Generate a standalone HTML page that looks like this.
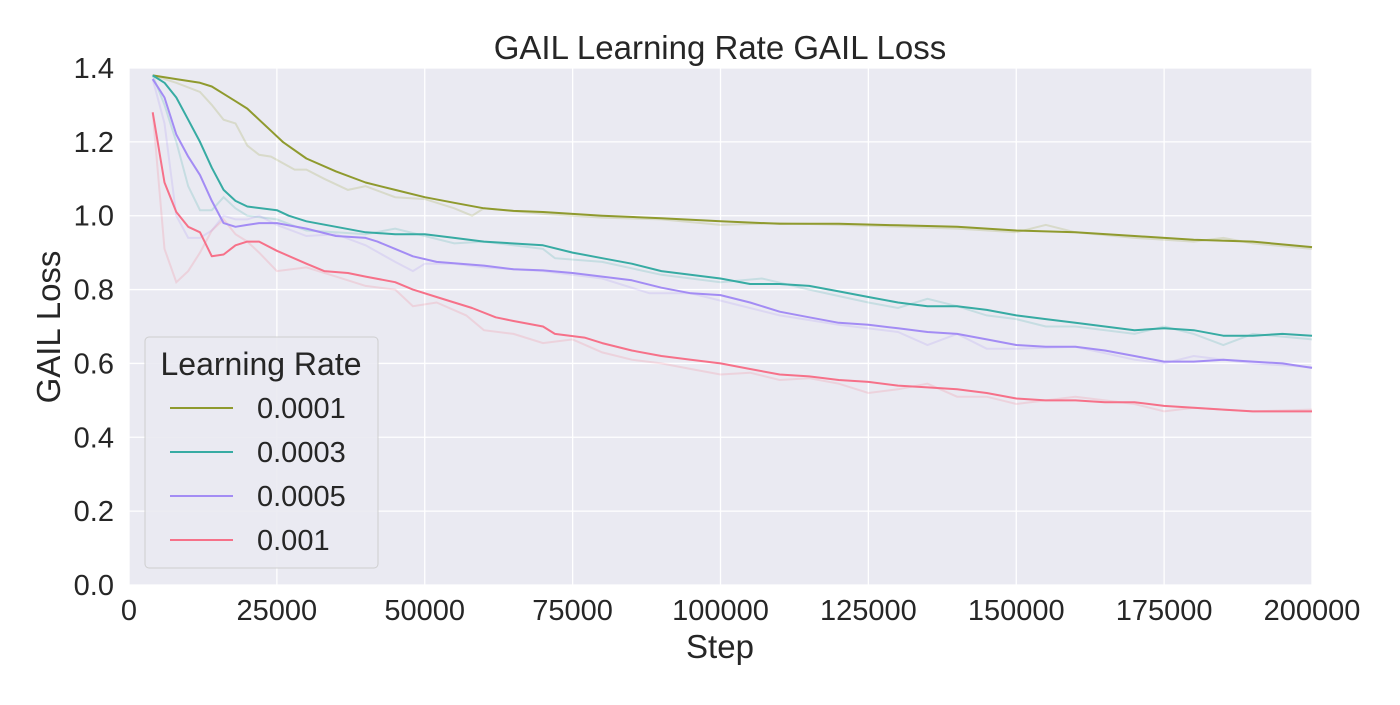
<!DOCTYPE html>
<html><head><meta charset="utf-8"><style>body{margin:0;background:#fff}svg text{font-family:"Liberation Sans",sans-serif;fill:#262626}</style></head>
<body>
<svg id="chart" width="1400" height="700">
<rect x="129" y="68" width="1183" height="517" fill="#eaeaf2"/>
<g id="grid"></g><g id="raw"></g><g id="smooth"></g><g id="ticks"></g>
<text x="720" y="59" font-size="33" text-anchor="middle">GAIL Learning Rate GAIL Loss</text>
<text x="720" y="658" font-size="33" text-anchor="middle">Step</text>
<text transform="translate(60,327) rotate(-90)" font-size="33" text-anchor="middle">GAIL Loss</text>
<g>
<rect x="145" y="337" width="233" height="231" rx="4" fill="#eaeaf2" stroke="#cccccc" opacity="0.9"/>
<text x="261" y="375" font-size="32" text-anchor="middle">Learning Rate</text>
<g id="legend"></g></g>
</svg>
<script>
const xTicks=[0,25000,50000,75000,100000,125000,150000,175000,200000];
const yTicks=[0,0.2,0.4,0.6,0.8,1.0,1.2,1.4];
const labels=["0.0001","0.0003","0.0005","0.001"];
const colors=["#8f9a2e","#37aba3","#a38cf4","#f67189"];
const s1x=[4000,8000,12000,14000,16000,18000,20000,22000,24000,26000,30000,35000,40000,45000,50000,55000,60000,65000,70000,75000,80000,90000,100000,110000,120000,130000,140000,150000,160000,170000,180000,190000,200000];
const s1y=[1.38,1.37,1.36,1.35,1.33,1.31,1.29,1.26,1.23,1.2,1.155,1.12,1.09,1.07,1.05,1.035,1.02,1.013,1.01,1.005,1.0,0.993,0.985,0.978,0.978,0.974,0.97,0.96,0.955,0.945,0.935,0.93,0.915];
const s2x=[4000,6000,8000,10000,12000,14000,16000,18000,20000,25000,27000,30000,35000,40000,45000,50000,55000,60000,70000,75000,80000,85000,90000,100000,105000,110000,115000,120000,125000,130000,135000,140000,145000,150000,155000,160000,165000,170000,175000,180000,185000,190000,195000,200000];
const s2y=[1.38,1.36,1.32,1.26,1.2,1.13,1.07,1.04,1.025,1.015,1.0,0.985,0.97,0.955,0.95,0.95,0.94,0.93,0.92,0.9,0.885,0.87,0.85,0.83,0.815,0.815,0.81,0.795,0.78,0.765,0.755,0.755,0.745,0.73,0.72,0.71,0.7,0.69,0.695,0.69,0.675,0.675,0.68,0.675];
const s3x=[4000,6000,8000,10000,12000,14000,16000,18000,20000,22000,25000,30000,35000,40000,42000,45000,48000,52000,60000,65000,70000,75000,80000,85000,90000,95000,100000,105000,110000,115000,120000,125000,130000,135000,140000,145000,150000,155000,160000,165000,170000,175000,180000,185000,190000,195000,200000];
const s3y=[1.37,1.32,1.22,1.16,1.11,1.04,0.98,0.97,0.975,0.98,0.98,0.965,0.945,0.94,0.93,0.91,0.89,0.875,0.865,0.855,0.852,0.845,0.835,0.825,0.805,0.79,0.785,0.765,0.74,0.725,0.71,0.705,0.695,0.685,0.68,0.665,0.65,0.645,0.645,0.635,0.62,0.605,0.605,0.61,0.605,0.6,0.588];
const s4x=[4000,6000,8000,10000,12000,14000,16000,18000,20000,22000,25000,30000,33000,37000,40000,45000,48000,52000,55000,58000,62000,65000,70000,72000,77000,80000,85000,90000,95000,100000,105000,110000,115000,120000,125000,130000,135000,140000,145000,150000,155000,160000,165000,170000,175000,180000,185000,190000,195000,200000];
const s4y=[1.28,1.09,1.01,0.97,0.955,0.89,0.895,0.92,0.93,0.93,0.905,0.87,0.85,0.845,0.835,0.82,0.8,0.78,0.765,0.75,0.725,0.715,0.7,0.68,0.67,0.655,0.635,0.62,0.61,0.6,0.585,0.57,0.565,0.555,0.55,0.54,0.535,0.53,0.52,0.505,0.5,0.5,0.495,0.495,0.485,0.48,0.475,0.47,0.47,0.47];
const r1x=[4000,8000,12000,14000,16000,18000,20000,22000,24000,28000,30000,33000,37000,40000,45000,50000,55000,58000,60000,70000,80000,90000,100000,110000,120000,130000,140000,150000,155000,160000,170000,180000,185000,190000,200000];
const r1y=[1.38,1.36,1.335,1.3,1.26,1.25,1.19,1.165,1.16,1.125,1.125,1.1,1.07,1.08,1.05,1.045,1.02,1.0,1.02,1.005,0.995,0.99,0.975,0.98,0.975,0.97,0.965,0.955,0.975,0.955,0.94,0.93,0.94,0.925,0.91];
const r2x=[4000,6000,8000,10000,12000,14000,16000,18000,20000,25000,30000,35000,40000,45000,50000,55000,60000,70000,72000,80000,90000,100000,107000,115000,125000,130000,135000,140000,145000,150000,155000,160000,170000,175000,180000,185000,190000,200000];
const r2y=[1.38,1.3,1.2,1.08,1.015,1.015,1.05,1.02,1.0,0.99,0.96,0.955,0.95,0.965,0.945,0.925,0.93,0.91,0.885,0.875,0.84,0.82,0.83,0.8,0.765,0.75,0.775,0.755,0.73,0.72,0.7,0.7,0.68,0.7,0.68,0.65,0.68,0.665];
const r3x=[4000,6000,8000,10000,12000,14000,16000,18000,20000,22000,25000,30000,35000,40000,45000,48000,50000,55000,60000,70000,80000,88000,95000,100000,110000,120000,130000,135000,140000,145000,150000,160000,170000,175000,180000,190000,200000];
const r3y=[1.37,1.25,1.0,0.94,0.94,0.96,1.0,0.99,0.99,1.0,0.975,0.945,0.95,0.92,0.875,0.85,0.87,0.87,0.86,0.85,0.83,0.79,0.79,0.77,0.73,0.705,0.685,0.65,0.68,0.64,0.64,0.645,0.61,0.6,0.62,0.6,0.59];
const r4x=[4000,6000,8000,10000,12000,14000,16000,18000,20000,22000,25000,30000,35000,40000,45000,48000,52000,57000,60000,65000,70000,75000,80000,85000,90000,95000,100000,105000,110000,115000,120000,125000,130000,135000,140000,145000,150000,160000,170000,175000,180000,190000,200000];
const r4y=[1.28,0.91,0.82,0.85,0.9,0.96,0.99,0.95,0.93,0.9,0.85,0.86,0.835,0.81,0.8,0.755,0.765,0.73,0.69,0.68,0.655,0.665,0.63,0.61,0.6,0.585,0.57,0.575,0.555,0.56,0.545,0.52,0.53,0.545,0.51,0.51,0.49,0.51,0.49,0.47,0.48,0.47,0.475];
const NS="http://www.w3.org/2000/svg";
const X=s=>129+s/200000*1183, Y=v=>585-v/1.4*517;
function mk(t,a,p){const e=document.createElementNS(NS,t);for(const k in a)e.setAttribute(k,a[k]);document.getElementById(p).appendChild(e);return e;}
xTicks.forEach(t=>{const g=mk('line',{x1:X(t),x2:X(t),y1:68,y2:585,stroke:'#fff','stroke-width':1.3},'grid');


const l=mk('text',{x:X(t),y:620,'font-size':29,'text-anchor':'middle'},'ticks');l.textContent=t;

});
yTicks.forEach(t=>{const g=mk('line',{x1:129,x2:1312,y1:Y(t),y2:Y(t),stroke:'#fff','stroke-width':1.3},'grid');


const l=mk('text',{x:114,y:Y(t)+10,'font-size':29,'text-anchor':'end'},'ticks');l.textContent=t.toFixed(1);

});
const pts=(xs,ys)=>xs.map((s,i)=>X(s).toFixed(1)+','+Y(ys[i]).toFixed(1)).join(' ');
const raws=[[r1x,r1y],[r2x,r2y],[r3x,r3y],[r4x,r4y]], sm=[[s1x,s1y],[s2x,s2y],[s3x,s3y],[s4x,s4y]];
raws.forEach((r,i)=>{const p=mk('polyline',{points:pts(r[0],r[1]),fill:'none',stroke:colors[i],'stroke-width':2,opacity:0.2},'raw');

});
sm.forEach((r,i)=>{const p=mk('polyline',{points:pts(r[0],r[1]),fill:'none',stroke:colors[i],'stroke-width':2,'stroke-linejoin':'round'},'smooth');


const y=408+i*44;
const ll=mk('line',{x1:170,x2:233,y1:y,y2:y,stroke:colors[i],'stroke-width':2},'legend');


const lt=mk('text',{x:257,y:y+10,'font-size':29},'legend');lt.textContent=labels[i];

});
</script>
</body></html>
